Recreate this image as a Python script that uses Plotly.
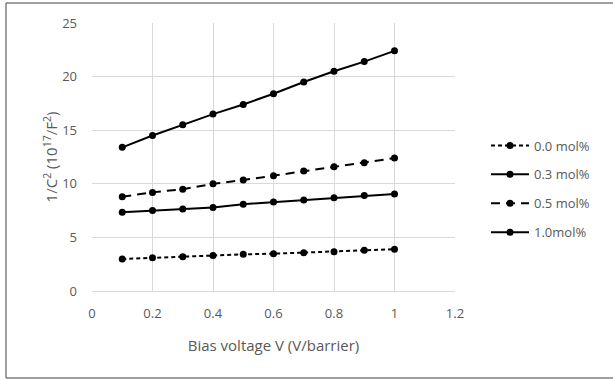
import plotly.graph_objects as go

x_vals = [0.1, 0.2, 0.3, 0.4, 0.5, 0.6, 0.7, 0.8, 0.9, 1.0]
series_names = ["0.0 mol%", "0.3 mol%", "0.5 mol%", "1.0mol%"]
s00 = [2.98, 3.1, 3.2, 3.3, 3.42, 3.48, 3.57, 3.66, 3.8, 3.9]
s03 = [7.34, 7.5, 7.65, 7.8, 8.1, 8.3, 8.5, 8.7, 8.9, 9.05]
s05 = [8.8, 9.2, 9.5, 10.0, 10.35, 10.75, 11.2, 11.6, 11.97, 12.4]
s10 = [13.4, 14.5, 15.5, 16.5, 17.4, 18.4, 19.5, 20.5, 21.4, 22.4]
x_ticks = [0, 0.2, 0.4, 0.6, 0.8, 1, 1.2]
x_tick_labels = ["0", "0.2", "0.4", "0.6", "0.8", "1", "1.2"]
y_ticks = [0, 5, 10, 15, 20, 25]

dashes = ["4px,3px", "solid", "9px,6px", "solid"]
data = [s00, s03, s05, s10]

fig = go.Figure()
for i, (name, ys, d) in enumerate(zip(series_names, data, dashes)):
    fig.add_trace(go.Scatter(
        x=x_vals, y=ys, name=name, mode="lines+markers", legendgroup="g%d" % i,
        line=dict(color="black", width=2, dash=d),
        marker=dict(color="black", size=7, symbol="circle"),
    ))

W, H = 613, 381
L, R, T, B = 92, 158, 23, 90
pw = W - L - R
ph = H - T - B

fig.update_layout(
    width=W, height=H,
    margin=dict(l=L, r=R, t=T, b=B),
    paper_bgcolor="white", plot_bgcolor="white",
    font=dict(family="Open Sans, sans-serif", color="#595959", size=13),
    showlegend=True,
    legend=dict(x=(486 - L) / pw, y=(H - B - 189) / ph, xanchor="left", yanchor="middle",
                font=dict(size=13, color="#595959"),
                tracegroupgap=9, itemwidth=38, bgcolor="rgba(0,0,0,0)"),
    xaxis=dict(range=[0, 1.2], tickvals=x_ticks, ticktext=x_tick_labels,
               showgrid=True, gridcolor="#d9d9d9", gridwidth=1,
               zeroline=False, showline=True, linecolor="#d9d9d9", linewidth=1,
               ticks="", ticklabelstandoff=10, tickfont=dict(size=13, color="#595959"),
               title=dict(text="Bias voltage V (V/barrier)", font=dict(size=15, color="#595959"),
                          standoff=19)),
    yaxis=dict(range=[0, 25], tickvals=y_ticks,
               showgrid=True, gridcolor="#d9d9d9", gridwidth=1,
               zeroline=False, showline=False, ticks="", ticklabelstandoff=14,
               tickfont=dict(size=13, color="#595959"),
               title=dict(text="1/C<sup>2</sup> (10<sup>17</sup>/F<sup>2</sup>)",
                          font=dict(size=15, color="#595959"), standoff=0)),
)

fig.add_shape(type="rect", xref="paper", yref="paper",
              x0=(6 - L) / pw, x1=(620 - L) / pw,
              y0=(H - B - 378) / ph, y1=(H - B - 3) / ph,
              line=dict(color="#404040", width=1), fillcolor="rgba(0,0,0,0)", layer="below")

fig.write_html("out.html")
